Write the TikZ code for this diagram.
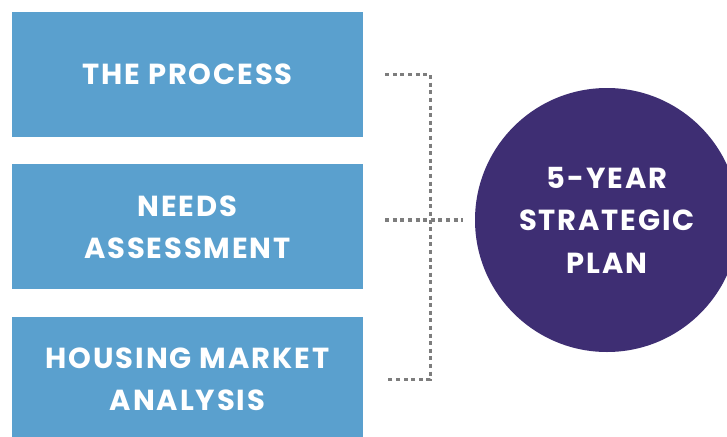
\documentclass[tikz,border=0pt]{standalone}
\usepackage{fontspec}
\setmainfont{Poppins}
\usetikzlibrary{positioning}
\definecolor{BoxBlue}{RGB}{90,160,206}
\definecolor{PlanPurple}{RGB}{62,46,115}
\definecolor{DotGray}{RGB}{125,125,125}
\newfontfamily\labelfont[LetterSpace=6.5]{Poppins}
\tikzset{
  stage/.style={fill=BoxBlue,minimum width=351pt,minimum height=125pt,align=center,text=white,font=\labelfont\fontsize{29}{42}\selectfont\bfseries},
  plan/.style={circle,fill=PlanPurple,minimum size=264pt,align=center,text=white,font=\labelfont\fontsize{29}{42.5}\selectfont\bfseries},
  link/.style={draw=DotGray,line width=3.2pt,dash pattern=on 4pt off 3.6pt}
}

\begin{document}
\begin{tikzpicture}[x=1pt,y=1pt,node distance=27pt]
\useasboundingbox[clip] (0,0) rectangle (727,-436);
\fill[white] (0,0) rectangle (727,-436);
\node[stage] (proc) at (187.5,-74.5) {THE PROCESS};
\node[stage,below=of proc] (needs) {NEEDS\\ASSESSMENT};
\node[stage,below=of needs] (market) {HOUSING MARKET\\ANALYSIS};
\node[plan] (strat) at (607,-220) {5-YEAR\\STRATEGIC\\PLAN};
\coordinate[right=67pt of proc.east] (jtop);
\coordinate[right=67pt of market.east] (jbot);
\draw[link,shorten <=22pt,shorten >=22pt] (proc.east) -- (jtop) -- (jbot) -- (market.east);
\draw[link,shorten <=22pt,shorten >=12pt] (needs.east |- strat) -- (strat.west);
\end{tikzpicture}
\end{document}
